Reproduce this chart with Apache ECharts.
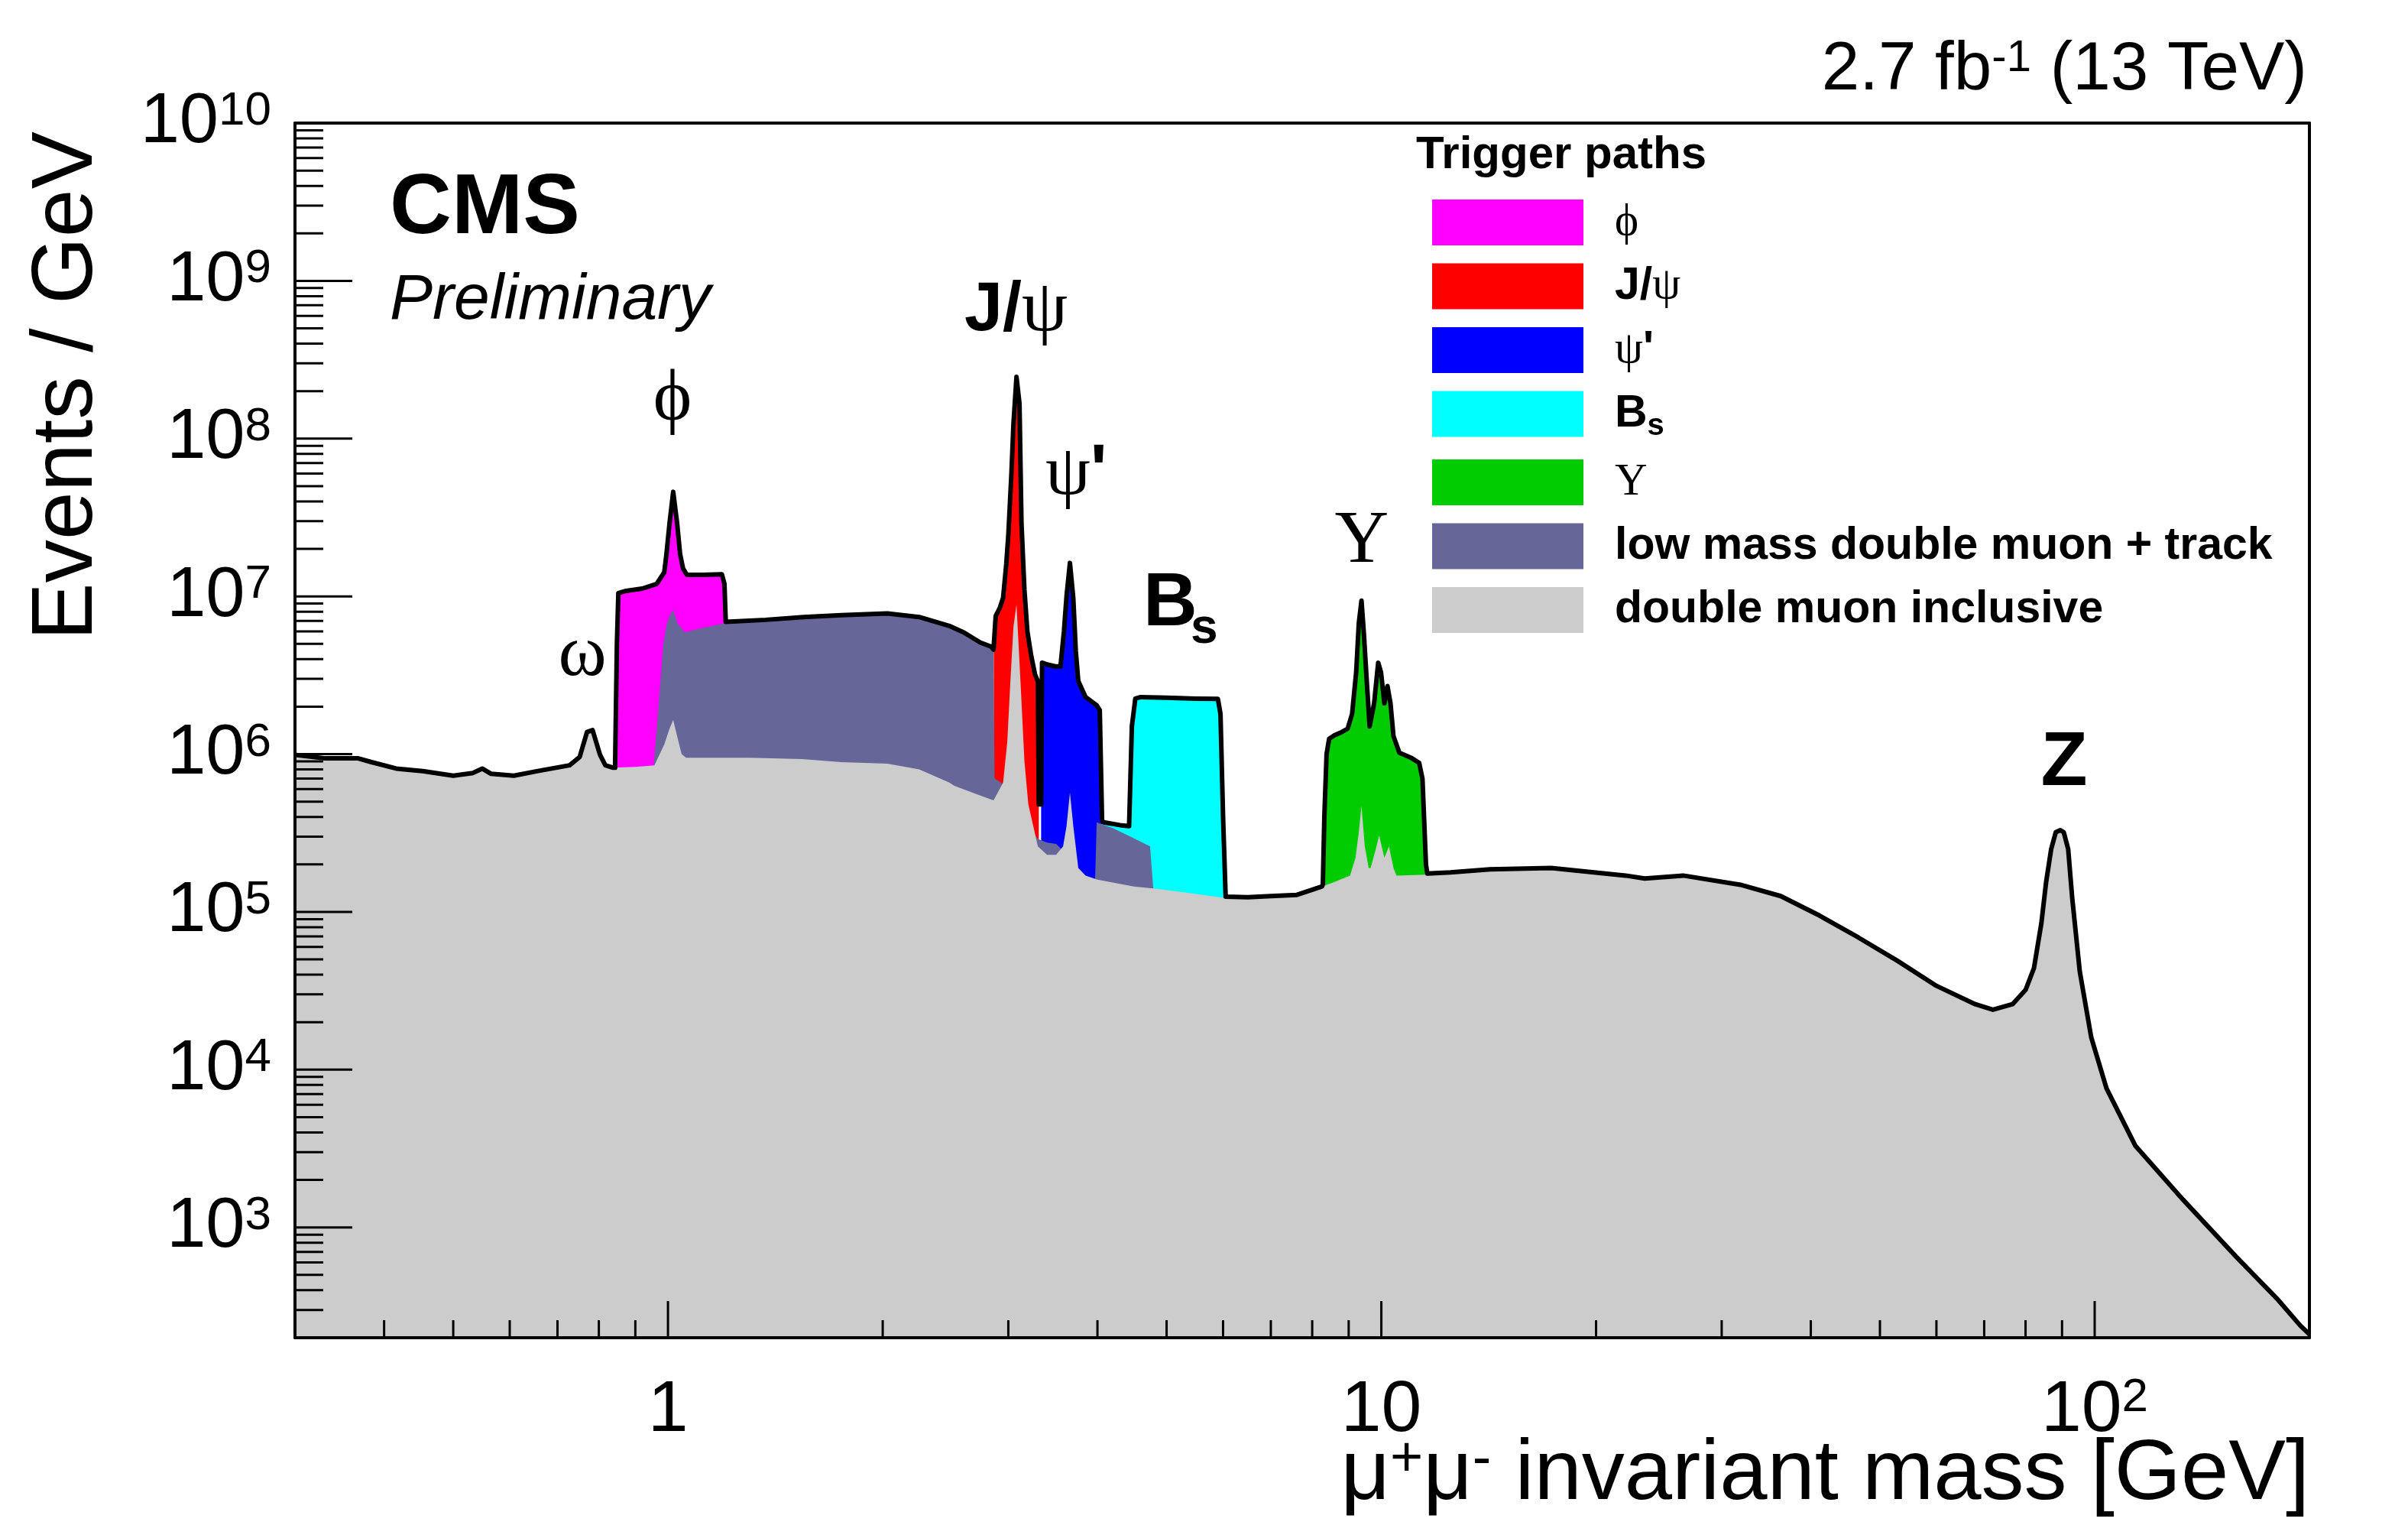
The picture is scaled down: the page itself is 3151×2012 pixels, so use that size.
<!DOCTYPE html>
<html>
<head>
<meta charset="utf-8">
<script src="https://cdn.jsdelivr.net/npm/echarts@6/dist/echarts.min.js"></script>
<style>
  html, body { margin: 0; padding: 0; background: #fff; }
  #chart { width: 3151px; height: 2012px; }
</style>
</head>
<body>
<div id="chart"></div>
<script>
// dimuon mass spectrum, values as [mass GeV, events/GeV]
const doubleMuonIncl = [
  [0.3, 9.9e5], [0.331, 9.4e5], [0.368, 9.4e5], [0.384, 8.9e5], [0.416, 8.1e5], [0.453, 7.8e5],
  [0.5, 7.3e5], [0.533, 7.6e5], [0.549, 8.1e5], [0.565, 7.5e5], [0.608, 7.3e5], [0.655, 7.8e5],
  [0.728, 8.5e5], [0.752, 9.6e5], [0.77, 1.38e6], [0.784, 1.42e6], [0.803, 9.9e5], [0.817, 8.5e5],
  [0.838, 8.2e5], [0.9, 8.3e5], [0.957, 8.5e5], [0.988, 1.15e6], [1.005, 1.45e6], [1.017, 1.65e6],
  [1.03, 1.3e6], [1.045, 1.0e6], [1.06, 9.5e5], [1.3, 9.5e5], [1.54, 9.3e5], [1.75, 8.9e5],
  [2.03, 8.7e5], [2.25, 8.0e5], [2.48, 6.6e5], [2.52, 6.3e5], [2.7, 5.6e5], [2.86, 5.1e5],
  [2.95, 6.6e5], [2.99, 1.2e6], [3.02, 2.9e6], [3.05, 6.4e6], [3.08, 8.9e6], [3.12, 2.9e6],
  [3.16, 9e5], [3.2, 4.8e5], [3.3, 2.6e5], [3.4, 2.3e5], [3.5, 2.3e5], [3.58, 2.6e5],
  [3.62, 3.5e5], [3.66, 5.7e5], [3.7, 3.5e5], [3.76, 1.9e5], [3.85, 1.7e5], [4.0, 1.6e5],
  [4.5, 1.45e5], [4.85, 1.4e5], [5.5, 1.3e5], [6.0, 1.23e5], [6.5, 1.24e5], [7.0, 1.26e5],
  [7.6, 1.28e5], [8.26, 1.45e5], [8.6, 1.55e5], [9.04, 1.7e5], [9.2, 2.2e5], [9.3, 3.2e5],
  [9.38, 4.7e5], [9.48, 2.6e5], [9.6, 1.9e5], [9.66, 1.9e5], [9.8, 2.4e5], [9.93, 3.05e5],
  [10.1, 2.2e5], [10.25, 2.6e5], [10.4, 1.9e5], [10.5, 1.7e5], [11.56, 1.72e5], [12.5, 1.78e5],
  [14.2, 1.86e5], [17.3, 1.9e5], [22, 1.7e5], [23.4, 1.63e5], [26.5, 1.7e5], [32, 1.48e5],
  [36.3, 1.26e5], [41.1, 9.5e4], [46.6, 6.9e4], [52.9, 4.9e4], [60, 3.4e4], [68, 2.6e4],
  [72, 2.4e4], [76.7, 2.6e4], [80, 3.2e4], [82.2, 4.4e4], [84.2, 8.5e4], [85.5, 1.55e5],
  [86.9, 2.5e5], [88.2, 3.2e5], [89.5, 3.3e5], [90.5, 3.2e5], [91.8, 2.5e5], [93, 1.23e5],
  [95.3, 4.2e4], [98.9, 1.6e4], [103.9, 7.6e3], [114, 3.3e3], [133, 1.5e3], [158, 650],
  [180, 355], [194, 240], [200, 210]
];

const lowMassTrack = [
  [0.955, 8.5e5], [0.97, 2e6], [0.985, 5e6], [0.995, 6.5e6], [1.005, 7.5e6], [1.017, 8.2e6],
  [1.03, 6.8e6], [1.056, 5.9e6], [1.1, 6.2e6], [1.21, 6.8e6], [1.37, 7.1e6], [1.55, 7.4e6],
  [1.75, 7.6e6], [2.03, 7.8e6], [2.25, 7.4e6], [2.48, 6.5e6], [2.6, 5.9e6], [2.74, 5.1e6],
  [2.84, 4.8e6], [2.86, 4.6e6], [2.87, 7.0e5], [2.93, 6.6e5], [2.97, 6.0e5], [3.05, 5e5],
  [3.2, 3.5e5], [3.3, 2.9e5], [3.4, 2.75e5], [3.5, 2.7e5], [3.56, 2.5e5], [3.7, 1.8e5],
  [3.9, 1.6e5], [3.97, 1.6e5], [3.99, 3.7e5], [4.2, 3.4e5], [4.45, 3.0e5], [4.74, 2.6e5],
  [4.79, 1.4e5]
];

const phiPath = [
  [0.843, 8.2e5], [0.848, 5e6], [0.852, 1.05e7], [0.87, 1.08e7], [0.92, 1.12e7], [0.964, 1.2e7],
  [0.988, 1.42e7], [0.995, 1.85e7], [1.005, 2.9e7], [1.017, 4.6e7], [1.03, 2.9e7], [1.04, 1.85e7],
  [1.05, 1.5e7], [1.063, 1.37e7], [1.12, 1.37e7], [1.19, 1.38e7], [1.2, 1.2e7], [1.205, 6.9e6]
];

const jpsiPath = [
  [2.862, 4.7e6], [2.88, 7.5e6], [2.92, 8.5e6], [2.95, 9.8e6], [2.98, 1.6e7], [3.0, 2.45e7],
  [3.03, 6e7], [3.05, 1.24e8], [3.08, 2.46e8], [3.11, 1.67e8], [3.13, 2.9e7], [3.16, 1.1e7],
  [3.19, 6.0e6], [3.23, 4.2e6], [3.27, 3.2e6], [3.3, 2.9e6], [3.31, 4.8e5]
];

const psi2sPath = [
  [3.335, 4.8e5], [3.345, 3.8e6], [3.4, 3.7e6], [3.49, 3.6e6], [3.55, 3.6e6], [3.59, 6e6],
  [3.62, 1.0e7], [3.66, 1.63e7], [3.7, 9.7e6], [3.73, 4.5e6], [3.76, 2.9e6], [3.85, 2.3e6],
  [3.99, 2.04e6], [4.03, 1.9e6], [4.06, 3.8e5]
];

const bsPath = [
  [4.08, 3.7e5], [4.3, 3.55e5], [4.43, 3.5e5], [4.47, 1.5e6], [4.52, 2.25e6], [4.6, 2.3e6],
  [5.0, 2.28e6], [5.5, 2.25e6], [5.9, 2.24e6], [5.95, 1.8e6], [6.0, 4e5], [6.05, 1.25e5]
];

const upsilonPath = [
  [8.28, 1.5e5], [8.32, 4e5], [8.38, 1.0e6], [8.45, 1.25e6], [8.6, 1.32e6], [8.8, 1.38e6],
  [8.97, 1.45e6], [9.1, 1.8e6], [9.22, 3.3e6], [9.3, 6.8e6], [9.38, 9.4e6], [9.45, 5.9e6],
  [9.55, 2.7e6], [9.63, 1.5e6], [9.77, 2.1e6], [9.9, 3.8e6], [9.99, 3.3e6], [10.1, 2.1e6],
  [10.2, 2.7e6], [10.3, 2.1e6], [10.4, 1.3e6], [10.6, 1.02e6], [11.0, 9.5e5], [11.3, 8.8e5],
  [11.42, 7e5], [11.55, 2e5], [11.6, 1.75e5]
];

// axis ranges and tick positions
const X_MIN = 0.3, X_MAX = 200;
const Y_MIN = 200, Y_MAX = 1e10;
const xMajorTicks = [1, 10, 100];
const yMajorTicks = [1e3, 1e4, 1e5, 1e6, 1e7, 1e8, 1e9, 1e10];
const minorMantissas = [2, 3, 4, 5, 6, 7, 8, 9];

const FONT = "'Liberation Sans', Arial, Helvetica, sans-serif";
const SERIF = "'Liberation Serif', 'DejaVu Serif', 'Times New Roman', serif";

const between = (arr, lo, hi) => arr.filter(p => p[0] >= lo && p[0] <= hi);

// black outline = envelope of all trigger paths
const totalOutline = [].concat(
  between(doubleMuonIncl, X_MIN, 0.84),
  phiPath,
  between(lowMassTrack, 1.21, 2.86),
  jpsiPath,
  psi2sPath,
  bsPath,
  between(doubleMuonIncl, 6.06, 8.27),
  upsilonPath,
  between(doubleMuonIncl, 11.62, X_MAX)
);

const minorTicks = (lo, hi, decades) => {
  const out = [];
  decades.forEach(d => minorMantissas.forEach(m => {
    const v = m * d;
    if (v > lo && v < hi) out.push(v);
  }));
  return out;
};
const xMinorTicks = minorTicks(X_MIN, X_MAX, [0.1, 1, 10, 100]);
const yMinorTicks = minorTicks(Y_MIN, Y_MAX, [1e2, 1e3, 1e4, 1e5, 1e6, 1e7, 1e8, 1e9]);

const tickRows = [];
xMajorTicks.forEach(v => tickRows.push([v, Y_MIN, 0, 1]));
xMinorTicks.forEach(v => tickRows.push([v, Y_MIN, 0, 0]));
yMajorTicks.forEach(v => tickRows.push([X_MIN, v, 1, 1]));
yMinorTicks.forEach(v => tickRows.push([X_MIN, v, 1, 0]));

const powLabel = v => {
  const l = Math.log10(v);
  const e = Math.round(l);
  if (Math.abs(l - e) > 1e-6) return '';
  if (e === 0) return '{b|1}';
  if (e === 1) return '{b|10}';
  return '{b|10}{s|' + e + '}';
};

const areaSeries = (name, data, color, z) => ({
  name: name,
  type: 'line',
  data: data,
  z: z,
  color: color,
  symbol: 'none',
  showSymbol: false,
  silent: true,
  lineStyle: { width: 0, opacity: 0 },
  areaStyle: { color: color, opacity: 1, origin: 'start' }
});

const legendLabels = {
  phi: '{g|ϕ}',
  jpsi: '{b|J/}{g|ψ}',
  psi2s: "{g|ψ}{b|'}",
  bs: '{b|B}{sub|s}',
  upsilon: '{g|Υ}',
  lowmass: '{b|low mass double muon + track}',
  inclusive: '{b|double muon inclusive}'
};

const chart = echarts.init(document.getElementById('chart'));

const txt = (x, y, style, extra) => Object.assign({
  type: 'text', x: x, y: y, silent: true,
  style: Object.assign({ fill: '#000', fontFamily: FONT, verticalAlign: 'middle' }, style)
}, extra || {});

const option = {
  animation: false,
  backgroundColor: '#fff',
  grid: { left: 386, right: 129, top: 161, bottom: 262 },
  xAxis: [
    {
      type: 'log', logBase: 10, min: X_MIN, max: X_MAX, z: 10,
      axisLine: { show: true, lineStyle: { color: '#000', width: 4 } },
      axisTick: { show: false },
      splitLine: { show: false },
      axisLabel: {
        margin: 48, color: '#000', formatter: powLabel,
        rich: {
          b: { fontFamily: FONT, fontSize: 95, lineHeight: 95, padding: [17, 0, 0, 0], verticalAlign: 'bottom', color: '#000' },
          s: { fontFamily: FONT, fontSize: 62, lineHeight: 62, verticalAlign: 'top', color: '#000' }
        }
      }
    },
    {
      type: 'value', position: 'top', min: 0, max: 1, z: 10,
      axisLine: { show: true, onZero: false, lineStyle: { color: '#000', width: 4 } },
      axisTick: { show: false }, axisLabel: { show: false }, splitLine: { show: false }
    }
  ],
  yAxis: [
    {
      type: 'log', logBase: 10, min: Y_MIN, max: Y_MAX, z: 10,
      axisLine: { show: true, lineStyle: { color: '#000', width: 4 } },
      axisTick: { show: false },
      splitLine: { show: false },
      axisLabel: {
        margin: 31, color: '#000', formatter: powLabel,
        rich: {
          b: { fontFamily: FONT, fontSize: 92, lineHeight: 92, padding: [17, 0, 0, 0], verticalAlign: 'bottom', color: '#000' },
          s: { fontFamily: FONT, fontSize: 62, lineHeight: 62, verticalAlign: 'top', color: '#000' }
        }
      }
    },
    {
      type: 'value', position: 'right', min: 0, max: 1, z: 10,
      axisLine: { show: true, onZero: false, lineStyle: { color: '#000', width: 4 } },
      axisTick: { show: false }, axisLabel: { show: false }, splitLine: { show: false }
    }
  ],
  legend: {
    data: ['phi', 'jpsi', 'psi2s', 'bs', 'upsilon', 'lowmass', 'inclusive'],
    orient: 'vertical',
    left: 1869,
    top: 256,
    itemWidth: 198,
    itemHeight: 60,
    itemGap: 23.5,
    icon: 'rect',
    selectedMode: false,
    itemStyle: { borderWidth: 0 },
    formatter: name => legendLabels[name],
    textStyle: {
      color: '#000',
      padding: [0, 0, 0, 36],
      rich: {
        g: { fontFamily: SERIF, fontSize: 59, lineHeight: 72, color: '#000' },
        b: { fontFamily: FONT, fontWeight: 'bold', fontSize: 59, lineHeight: 72, color: '#000' },
        sub: { fontFamily: FONT, fontWeight: 'bold', fontSize: 40, lineHeight: 30, verticalAlign: 'bottom', color: '#000' }
      }
    }
  },
  graphic: [
    // axis titles
    txt(89, 172, { text: 'Events / GeV', fontSize: 113, align: 'right' }, { rotation: Math.PI / 2 }),
    txt(3022, 1930, {
      text: 'μ{s|+}μ{s|-}{n| invariant mass [GeV]}', align: 'right',
      rich: {
        s: { fontFamily: FONT, fontSize: 74, lineHeight: 74, verticalAlign: 'top' },
        n: { fontFamily: FONT, fontSize: 112, lineHeight: 112, padding: [16, 0, 0, 0], verticalAlign: 'bottom' }
      },
      fontSize: 112, lineHeight: 112
    }),
    // header texts
    txt(3019, 92, {
      text: '{n|2.7 fb}{s|-1}{n| (13 TeV)}', align: 'right',
      rich: {
        n: { fontFamily: FONT, fontSize: 89, lineHeight: 89, padding: [24, 0, 0, 0], verticalAlign: 'bottom' },
        s: { fontFamily: FONT, fontSize: 58, lineHeight: 58, verticalAlign: 'top' }
      }
    }),
    txt(510, 274, { text: 'CMS', fontSize: 112, fontWeight: 'bold', align: 'left' }),
    txt(510, 394, { text: 'Preliminary', fontSize: 84, fontStyle: 'italic', align: 'left' }),
    txt(1853, 203, { text: 'Trigger paths', fontSize: 60, fontWeight: 'bold', align: 'left' }),
    // resonance labels
    txt(762, 858, { text: 'ω', fontFamily: SERIF, fontSize: 96, align: 'center' }),
    txt(880, 524, { text: 'ϕ', fontFamily: SERIF, fontSize: 96, align: 'center' }),
    txt(1262, 407, {
      text: '{b|J/}{g|ψ}', align: 'left',
      rich: {
        b: { fontFamily: FONT, fontWeight: 'bold', fontSize: 90, lineHeight: 92 },
        g: { fontFamily: SERIF, fontSize: 96, lineHeight: 92 }
      }
    }),
    txt(1368, 621, {
      text: "{g|ψ}{b|'}", align: 'left',
      rich: {
        b: { fontFamily: FONT, fontWeight: 'bold', fontSize: 92, lineHeight: 92 },
        g: { fontFamily: SERIF, fontSize: 94, lineHeight: 92 }
      }
    }),
    txt(1496, 791, { text: 'B', fontSize: 98, fontWeight: 'bold', align: 'left' }),
    txt(1558, 823, { text: 's', fontSize: 64, fontWeight: 'bold', align: 'left' }),
    txt(1782, 709, { text: 'Υ', fontFamily: SERIF, fontSize: 98, align: 'center' }),
    txt(2701, 999, { text: 'Z', fontSize: 100, fontWeight: 'bold', align: 'center' })
  ],
  series: [
    areaSeries('phi', phiPath, '#ff00ff', 2),
    areaSeries('bs', bsPath, '#00ffff', 2),
    areaSeries('jpsi', jpsiPath, '#ff0000', 2),
    areaSeries('psi2s', psi2sPath, '#0000ff', 2),
    areaSeries('upsilon', upsilonPath, '#00cc00', 2),
    areaSeries('lowmass', lowMassTrack, '#666699', 3),
    areaSeries('inclusive', doubleMuonIncl, '#cccccc', 4),
    {
      name: 'total',
      type: 'line',
      data: totalOutline,
      z: 5,
      symbol: 'none',
      showSymbol: false,
      silent: true,
      lineStyle: { color: '#000', width: 6, join: 'round' }
    },
    {
      name: 'ticks',
      type: 'custom',
      z: 12,
      silent: true,
      clip: false,
      data: tickRows,
      encode: { x: 0, y: 1 },
      renderItem: (params, api) => {
        const p = api.coord([api.value(0), api.value(1)]);
        const isY = api.value(2) === 1;
        const major = api.value(3) === 1;
        const len = isY ? (major ? 75 : 37) : (major ? 48 : 23);
        const shape = isY
          ? { x1: p[0], y1: p[1], x2: p[0] + len, y2: p[1] }
          : { x1: p[0], y1: p[1], x2: p[0], y2: p[1] - len };
        return { type: 'line', shape: shape, style: { stroke: '#000', lineWidth: 3 } };
      }
    }
  ]
};

chart.setOption(option);
</script>
</body>
</html>
